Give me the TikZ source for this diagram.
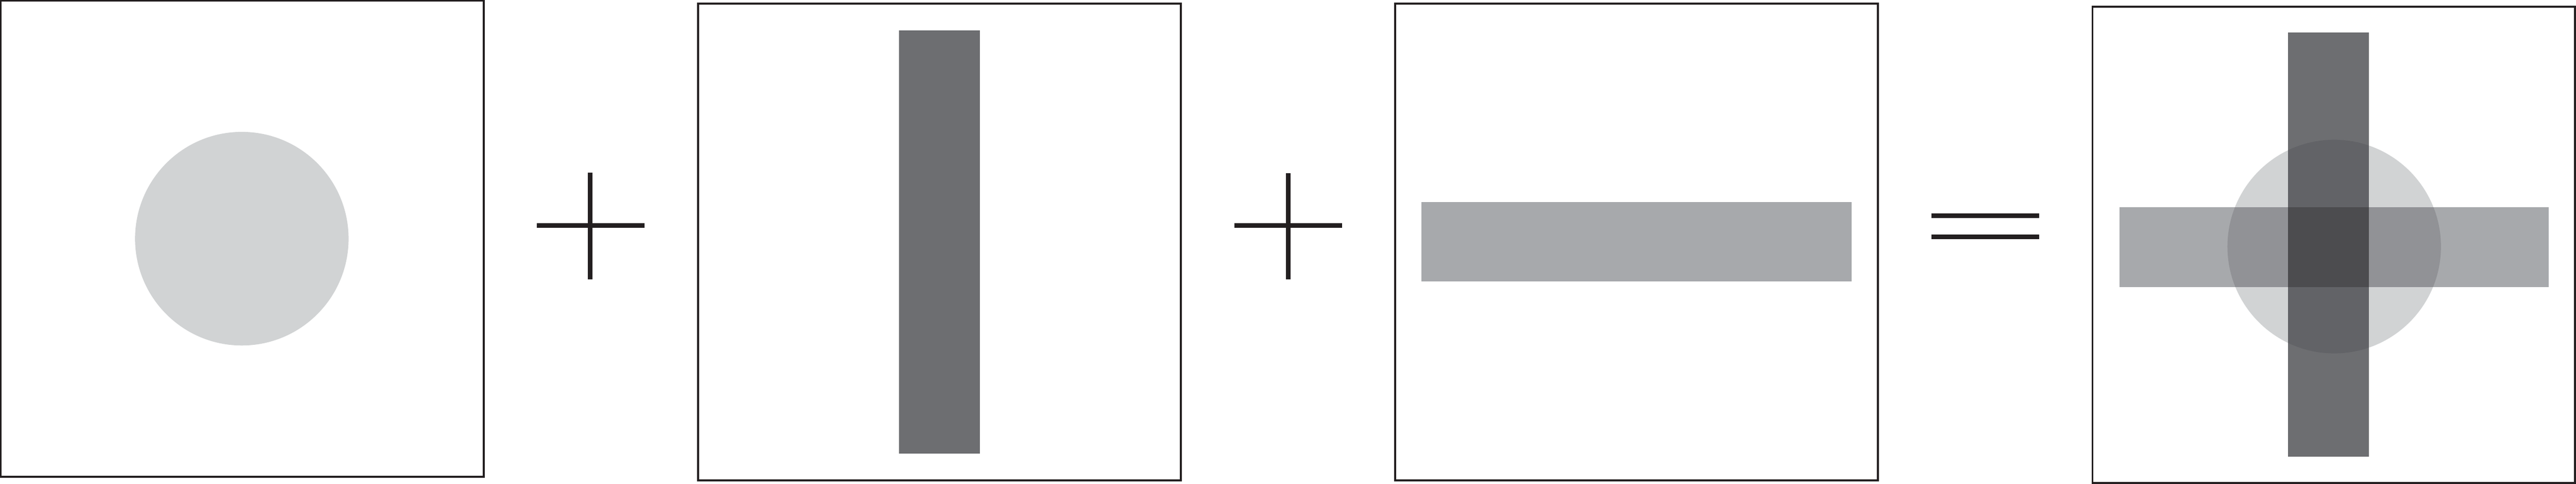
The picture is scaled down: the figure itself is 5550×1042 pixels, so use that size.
\documentclass[tikz,border=0pt]{standalone}
\definecolor{inkc}{HTML}{231F20}
\definecolor{circc}{HTML}{D1D3D4}
\definecolor{vbarc}{HTML}{6D6E71}
\definecolor{hbarc}{HTML}{A7A9AC}
\definecolor{cvc}{HTML}{626367}
\definecolor{chc}{HTML}{919296}
\definecolor{allc}{HTML}{4C4C4F}
\begin{document}
\begin{tikzpicture}[x=0.01cm,y=-0.01cm,
  frame/.style={draw=inkc,line width=0.04cm},
  sign/.style={draw=inkc,line width=0.1cm}]
\useasboundingbox (0,0) rectangle (5550,1042);
% panel 1
\fill[circc] (521,514) circle (230);
\draw[frame] (1.8,1.5) rectangle (1042,1027);
% plus 1
\draw[sign] (1157,486) -- (1389,486);
\draw[sign] (1271,372) -- (1271,602);
% panel 2
\fill[vbarc] (1937,65) rectangle (2111,977);
\draw[frame] (1504,8) rectangle (2544,1034.5);
% plus 2
\draw[sign] (2659,486) -- (2891,486);
\draw[sign] (2775,373) -- (2775,602);
% panel 3
\fill[hbarc] (3063,435) rectangle (3989,606);
\draw[frame] (3006,8) rectangle (4046,1034.5);
% equals
\draw[sign] (4161,464) -- (4393,464);
\draw[sign] (4161,510) -- (4393,510);
% panel 4
\fill[circc] (5029,531) circle (230);
\fill[vbarc] (4930,70) rectangle (5104,983);
\fill[hbarc] (4566,446) rectangle (5491,618);
\begin{scope}
  \clip (5029,531) circle (230);
  \fill[cvc] (4930,70) rectangle (5104,983);
  \fill[chc] (4566,446) rectangle (5491,618);
  \fill[allc] (4930,446) rectangle (5104,618);
\end{scope}
\draw[frame] (4508,14.3) rectangle (5548,1040);
\end{tikzpicture}
\end{document}
